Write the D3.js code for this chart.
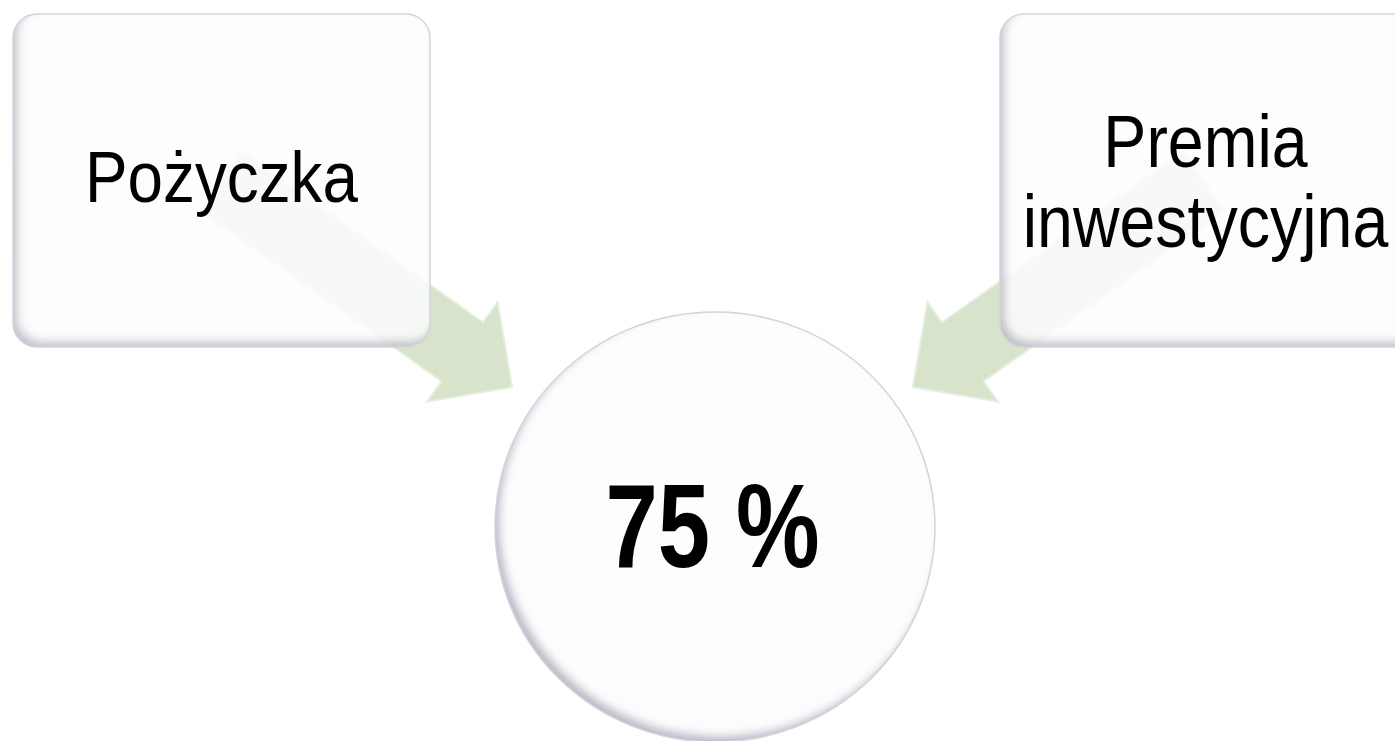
<!DOCTYPE html>
<html><head><meta charset="utf-8">
<script src="https://cdn.jsdelivr.net/npm/d3@7"></script>
<style>html,body{margin:0;padding:0;background:#fff;overflow:hidden}</style>
</head><body>
<svg id="c" width="1395" height="741"></svg>
<script>
// ---- data ----
const sources = ["Pożyczka", "Premia\ninwestycyjna"];
const sourceSide = [-1, 1];           // left / right of the target
const targetLabel = ["75 %"];

// ---- layout ----
const W = 1395, H = 741;
const svg = d3.select("#c");
const side = d3.scaleLinear().domain([-1, 1]).range([221.5, 1208.5]); // box centre x
const boxW = 417, boxH = 333, boxTop = 14;
const circ = {x: 715, y: 527, rx: 220, ry: 215};

const defs = svg.append("defs");
const f = defs.append("filter").attr("id", "inner").attr("x", "-10%").attr("y", "-10%").attr("width", "120%").attr("height", "120%");
f.append("feComponentTransfer").attr("in", "SourceAlpha").attr("result", "inv")
  .append("feFuncA").attr("type", "table").attr("tableValues", "1 0");
f.append("feGaussianBlur").attr("in", "inv").attr("stdDeviation", 4).attr("result", "b");
f.append("feOffset").attr("in", "b").attr("dx", 5).attr("dy", -6).attr("result", "o");
f.append("feFlood").attr("flood-color", "#9d9db2").attr("flood-opacity", 0.75).attr("result", "fl");
f.append("feComposite").attr("in", "fl").attr("in2", "o").attr("operator", "in").attr("result", "s1");
f.append("feComposite").attr("in", "s1").attr("in2", "SourceAlpha").attr("operator", "in").attr("result", "s2");
const m = f.append("feMerge");
m.append("feMergeNode").attr("in", "SourceGraphic");
m.append("feMergeNode").attr("in", "s2");

// ---- arrows (behind boxes) ----
const L = 356, sw = 36, hw = 61, hl = 61;
const arrowPath = `M0,${-sw} L${L-hl},${-sw} L${L-hl},${-hw} L${L},0 L${L-hl},${hw} L${L-hl},${sw} L0,${sw} Z`;
const tailX = d3.scaleLinear().domain([-1, 1]).range([221.5, 1203.5]);
const ang = Math.atan2(205.5, 290.5) * 180 / Math.PI;
svg.append("g").selectAll("path").data(sourceSide).join("path")
  .attr("d", arrowPath)
  .attr("transform", d => `translate(${tailX(d)},181.5) rotate(${d < 0 ? ang : 180 - ang})`)
  .attr("fill", "#d7e3cb").attr("stroke", "#e6eedf").attr("stroke-width", 2)
  .attr("stroke-linejoin", "miter");

// ---- boxes ----
const boxes = svg.append("g").selectAll("g").data(sourceSide).join("g");
boxes.append("g").attr("opacity", 0.85).append("rect")
  .attr("x", d => side(d) - boxW / 2).attr("y", boxTop)
  .attr("width", boxW).attr("height", boxH).attr("rx", 24)
  .attr("fill", "#fdfdfe").attr("filter", "url(#inner)");
boxes.append("rect")
  .attr("x", d => side(d) - boxW / 2).attr("y", boxTop)
  .attr("width", boxW).attr("height", boxH).attr("rx", 24)
  .attr("fill", "none").attr("stroke", "#d3d3da").attr("stroke-width", 1.5);

// ---- circle ----
svg.append("ellipse").attr("cx", circ.x).attr("cy", circ.y).attr("rx", circ.rx).attr("ry", circ.ry)
  .attr("fill", "#fdfdfe").attr("filter", "url(#inner)");
svg.append("ellipse").attr("cx", circ.x).attr("cy", circ.y).attr("rx", circ.rx).attr("ry", circ.ry)
  .attr("fill", "none").attr("stroke", "#d3d3da").attr("stroke-width", 1.5);

// ---- texts ----
const font = "'Liberation Sans', Arial, sans-serif";
const labelCfg = [
  {x: 221.5, y0: 202, size: 72, sx: 0.886},
  {x: 1205.5, y0: 167, size: 75, sx: 0.86}
];
sources.forEach((s, i) => {
  const c = labelCfg[i];
  const t = svg.append("text")
    .attr("transform", `translate(${c.x},${c.y0}) scale(${c.sx},1)`)
    .attr("text-anchor", "middle").attr("font-family", font)
    .attr("font-size", c.size).attr("fill", "#000");
  s.split("\n").forEach((ln, j) => t.append("tspan").attr("x", 0).attr("y", j * 80).text(ln));
});
svg.append("text").datum(targetLabel[0])
  .attr("transform", `translate(712.5,567) scale(0.79,1)`)
  .attr("text-anchor", "middle").attr("font-family", font)
  .attr("font-weight", "bold").attr("font-size", 119).attr("fill", "#000")
  .text(d => d);
</script>
</body></html>
